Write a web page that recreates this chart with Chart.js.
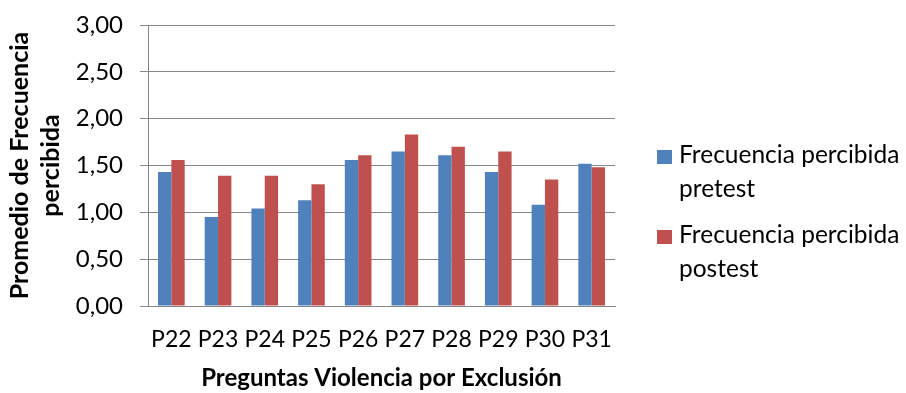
<!DOCTYPE html>
<html lang="es">
<head>
<meta charset="utf-8">
<title>Preguntas Violencia por Exclusión</title>
<script src="https://cdn.jsdelivr.net/npm/chart.js@4.4.1/dist/chart.umd.min.js"></script>
<style>
  html, body { margin: 0; padding: 0; background: #fff; }
  #wrap { position: relative; width: 906px; height: 393px; }
  #grafico { position: absolute; left: 0; top: 0; }
  #leyenda {
    position: absolute; left: 657px; top: 137px; width: 249px;
    font-family: Lato, sans-serif; font-size: 24.5px; line-height: 34px; color: #000;
  }
  .item { position: relative; padding-left: 22px; height: 68px; margin-bottom: 12px; }
  .item span.caja { position: absolute; left: 0; top: 13px; width: 15px; height: 14px; }
</style>
</head>
<body>
<div id="wrap">
  <canvas id="grafico" width="906" height="393"></canvas>
  <div id="leyenda"></div>
</div>
<script>
// Datos
const categorias = ['P22', 'P23', 'P24', 'P25', 'P26', 'P27', 'P28', 'P29', 'P30', 'P31'];
const pretest    = [1.43, 0.95, 1.04, 1.13, 1.56, 1.65, 1.61, 1.43, 1.08, 1.52];
const postest    = [1.56, 1.39, 1.39, 1.30, 1.61, 1.83, 1.70, 1.65, 1.35, 1.48];
const series     = ['Frecuencia percibida pretest', 'Frecuencia percibida postest'];
const yMin = 0, yMax = 3, yPaso = 0.5;

const AZUL  = '#4F81BD';
const ROJO  = '#C0504D';
const GRIS  = '#878787';
const FUENTE = 'Lato, sans-serif';

const canvas = document.getElementById('grafico');

const chart = new Chart(canvas, {
  type: 'bar',
  data: {
    labels: categorias,
    datasets: [
      { label: series[0], data: pretest, backgroundColor: AZUL },
      { label: series[1], data: postest, backgroundColor: ROJO },
    ],
  },
  options: {
    responsive: false,
    animation:  false,
    devicePixelRatio: 1,
    layout: { padding: { top: 25, right: 291, left: 0, bottom: 0 } },
    datasets: {
      bar: { categoryPercentage: 0.571, barPercentage: 1.0 },
    },
    plugins: {
      legend:  { display: false },
      tooltip: { enabled: false },
    },
    scales: {
      x: {
        grid:   { display: false },
        border: { display: true, color: GRIS, width: 1 },
        ticks:  { color: '#000', padding: 12, font: { family: FUENTE, size: 23 } },
        title: {
          display: true,
          text:    'Preguntas Violencia por Exclusión',
          color:   '#000',
          font:    { family: FUENTE, size: 24, weight: 'bold' },
          padding: { top: 0, bottom: 0 },
        },
        afterFit: s => { s.height = 87; s.paddingLeft = 0; s.paddingRight = 0; },
      },
      y: {
        min: yMin,
        max: yMax,
        grid:   { color: GRIS, lineWidth: 1, tickLength: 8, tickColor: GRIS },
        border: { display: true, color: GRIS, width: 1 },
        ticks: {
          stepSize: yPaso,
          color:    '#000',
          padding:  17,
          font:     { family: FUENTE, size: 24 },
          callback: v => v.toFixed(2).replace('.', ','),
        },
        title: {
          display: true,
          text:    ['Promedio de Frecuencia', 'percibida'],
          color:   '#000',
          font:    { family: FUENTE, size: 25, weight: 'bold', lineHeight: '31px' },
          padding: { top: 4, bottom: 0 },
        },
        // el área del gráfico queda fija: 148..615 x 25..306
        afterFit: s => { s.width = 148; s.paddingTop = 0; s.paddingBottom = 0; },
      },
    },
  },
});

// Leyenda HTML (el texto se ajusta en dos líneas como en el original)
const leyenda = document.getElementById('leyenda');
chart.data.datasets.forEach(ds => {
  const item = document.createElement('div');
  item.className = 'item';
  const caja = document.createElement('span');
  caja.className = 'caja';
  caja.style.background = ds.backgroundColor;
  item.appendChild(caja);
  item.appendChild(document.createTextNode(ds.label));
  leyenda.appendChild(item);
});
</script>
</body>
</html>
